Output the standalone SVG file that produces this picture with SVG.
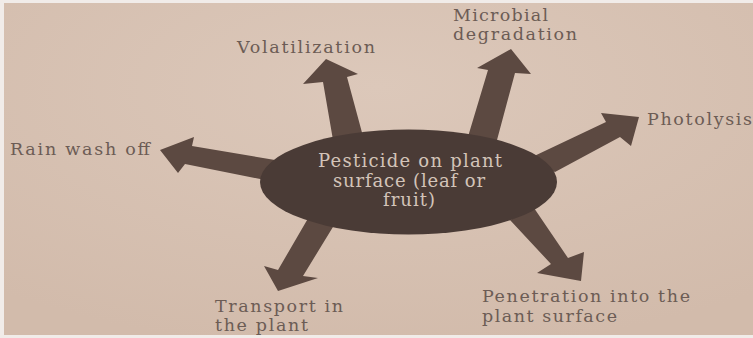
<svg xmlns="http://www.w3.org/2000/svg" width="753" height="338" viewBox="0 0 753 338">
  <defs>
    <radialGradient id="paper" cx="0.5" cy="0.25" r="0.8">
      <stop offset="0" stop-color="#dcc8ba"/>
      <stop offset="1" stop-color="#d2bbab"/>
    </radialGradient>
    <style>
      .arrow { fill: #5c4941; }
      .node { fill: #4a3b36; }
      .lbl { font-family: "DejaVu Serif", "Liberation Serif", serif; font-size: 17.5px; fill: #6c5c55; }
      .inner { font-family: "DejaVu Serif", "Liberation Serif", serif; font-size: 18px; fill: #d3c4b9; }
    </style>
  </defs>
  <rect x="0" y="0" width="753" height="338" fill="#f1ece9"/>
  <rect x="4" y="3" width="749" height="332" fill="url(#paper)"/>

  <g id="connectors">
    <polygon class="arrow" points="333,140 323,82 303,84 326,59 358,74 347,77 364,140"/>
    <polygon class="arrow" points="467,140 488,70 477,68 511,49 531,74 515,73 497,140"/>
    <polygon class="arrow" points="530,158 606,122 601,113 639,117 631,146 620,137 555,172"/>
    <polygon class="arrow" points="275,160 192,146 194,137 160,150 178,173 185,164 275,182"/>
    <polygon class="arrow" points="310,215 278,270 264,266 278,291 318,278 303,276 336,222"/>
    <polygon class="arrow" points="510,220 551,264 537,273 581,281 584,252 568,258 534,208"/>
  </g>

  <g id="pesticide">
    <ellipse class="node" cx="408.5" cy="182" rx="148.5" ry="52.5"/>
    <text class="inner" x="318" y="167" textLength="184">Pesticide on plant</text>
    <text class="inner" x="333" y="187" textLength="152">surface (leaf or</text>
    <text class="inner" x="383" y="206" textLength="52">fruit)</text>
  </g>

  <g id="volatilization">
    <text class="lbl" x="237" y="53" textLength="138">Volatilization</text>
  </g>
  <g id="microbial">
    <text class="lbl" x="453" y="21" textLength="95">Microbial</text>
    <text class="lbl" x="453" y="40" textLength="124">degradation</text>
  </g>
  <g id="photolysis">
    <text class="lbl" x="647" y="125" textLength="105">Photolysis</text>
  </g>
  <g id="rain">
    <text class="lbl" x="10" y="155" textLength="140">Rain wash off</text>
  </g>
  <g id="transport">
    <text class="lbl" x="215" y="312" textLength="128">Transport in</text>
    <text class="lbl" x="215" y="331" textLength="93">the plant</text>
  </g>
  <g id="penetration">
    <text class="lbl" x="482" y="302" textLength="208">Penetration into the</text>
    <text class="lbl" x="482" y="322" textLength="135">plant surface</text>
  </g>
</svg>
